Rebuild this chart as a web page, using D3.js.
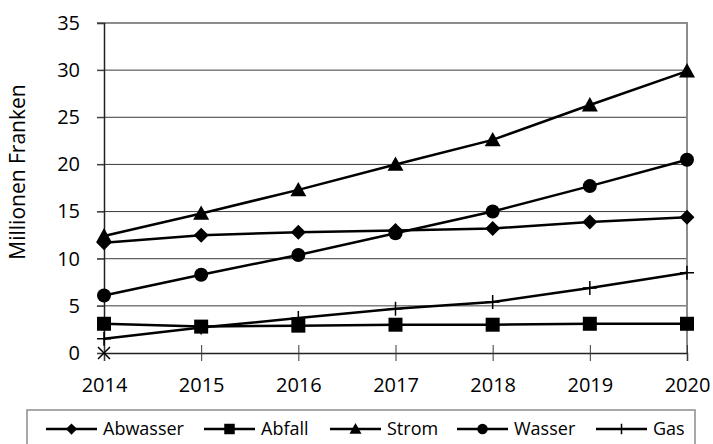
<!DOCTYPE html>
<html>
<head>
<meta charset="utf-8">
<script src="https://cdn.jsdelivr.net/npm/d3@7"></script>
<style>
  body { margin: 0; background: #fff; }
  text { font-family: "Open Sans", "Liberation Sans", sans-serif; fill: #000; }
</style>
</head>
<body>
<svg width="713" height="444"></svg>
<script>
// data
var years = [2014, 2015, 2016, 2017, 2018, 2019, 2020];
var abwasser = [11.7, 12.5, 12.8, 13.0, 13.2, 13.9, 14.4];
var abfall   = [3.1, 2.8, 2.9, 3.0, 3.0, 3.1, 3.1];
var strom    = [12.4, 14.8, 17.3, 20.0, 22.6, 26.3, 29.9];
var wasser   = [6.1, 8.3, 10.4, 12.7, 15.0, 17.7, 20.5];
var gas      = [1.5, 2.7, 3.7, 4.7, 5.4, 6.9, 8.5];
var extra    = [0];   // lone x marker at 2014, not in legend
var yTicks = [0, 5, 10, 15, 20, 25, 30, 35];

var series = [
  {name: "Abwasser", values: abwasser, marker: "diamond"},
  {name: "Abfall",   values: abfall,   marker: "square"},
  {name: "Strom",    values: strom,    marker: "triangle"},
  {name: "Wasser",   values: wasser,   marker: "circle"},
  {name: "Gas",      values: gas,      marker: "plus"}
];

var svg = d3.select("svg");
var pLeft = 104, pRight = 687, pTop = 23, pBottom = 353;

var x = d3.scaleLinear().domain([2014, 2020]).range([pLeft, pRight]);
var y = d3.scaleLinear().domain([0, 35]).range([pBottom, pTop]);

// marker path for a given size (half width)
function markerPath(type, s) {
  if (type == "diamond") return "M0," + (-s) + "L" + s + ",0L0," + s + "L" + (-s) + ",0Z";
  if (type == "square") return "M" + (-s) + "," + (-s) + "h" + (2*s) + "v" + (2*s) + "h" + (-2*s) + "Z";
  if (type == "triangle") return "M0," + (-s) + "L" + s + "," + (s*0.8) + "L" + (-s) + "," + (s*0.8) + "Z";
  if (type == "circle") return d3.arc()({innerRadius: 0, outerRadius: s, startAngle: 0, endAngle: 2*Math.PI});
  if (type == "plus") return "M" + (-s) + ",0H" + s + "M0," + (-s) + "V" + s;
  if (type == "x") return "M" + (-s) + "," + (-s) + "L" + s + "," + s + "M" + s + "," + (-s) + "L" + (-s) + "," + s;
}
var markerSize = {diamond: 7.5, square: 7, triangle: 8, circle: 7, plus: 7, x: 6};

// gridlines
svg.append("g").selectAll("line")
  .data(yTicks.slice(1, -1))
  .enter().append("line")
    .attr("x1", pLeft - 7).attr("x2", pRight)
    .attr("y1", function(d) { return y(d); })
    .attr("y2", function(d) { return y(d); })
    .attr("stroke", "#3a3a3a").attr("stroke-width", 1);

// plot border top / right
svg.append("path")
  .attr("d", "M" + (pLeft - 7) + "," + y(35) + "H" + pRight + "V" + y(0))
  .attr("fill", "none").attr("stroke", "#8c8c8c").attr("stroke-width", 2);

// y axis
var yAxis = d3.axisLeft(y).tickValues(yTicks).tickSize(7).tickPadding(17);
var gy = svg.append("g").attr("transform", "translate(" + pLeft + ",0)").call(yAxis);
gy.select(".domain").attr("stroke", "#222").attr("stroke-width", 1.5);
gy.selectAll(".tick line").attr("stroke", "#3a3a3a");
gy.selectAll("text").style("font-size", "20px").attr("fill", "#000");

// x axis with crossing ticks
var xAxis = d3.axisBottom(x).tickValues(years).tickFormat(d3.format("d")).tickSize(8).tickPadding(17);
var gx = svg.append("g").attr("transform", "translate(0," + pBottom + ")").call(xAxis);
gx.select(".domain").attr("stroke", "#222").attr("stroke-width", 1.5);
gx.selectAll(".tick line").attr("y1", -8).attr("stroke", "#3a3a3a");
gx.selectAll("text").style("font-size", "20px").attr("fill", "#000");

// y title
svg.append("text")
  .attr("transform", "translate(25,172) rotate(-90)")
  .attr("text-anchor", "middle")
  .style("font-size", "21px")
  .text("Millionen Franken");

// lines and markers
var line = d3.line()
  .x(function(d, i) { return x(years[i]); })
  .y(function(d) { return y(d); });

series.forEach(function(s) {
  svg.append("path")
    .attr("d", line(s.values))
    .attr("fill", "none").attr("stroke", "#000").attr("stroke-width", 2.5);
  svg.append("g").selectAll("path")
    .data(s.values)
    .enter().append("path")
      .attr("transform", function(d, i) { return "translate(" + x(years[i]) + "," + y(d) + ")"; })
      .attr("d", markerPath(s.marker, markerSize[s.marker]))
      .attr("fill", "#000").attr("stroke", "#000")
      .attr("stroke-width", s.marker == "plus" ? 1.5 : 0);
});

svg.append("g").selectAll("path")
  .data(extra)
  .enter().append("path")
    .attr("transform", function(d, i) { return "translate(" + x(years[i]) + "," + y(d) + ")"; })
    .attr("d", markerPath("x", markerSize.x))
    .attr("fill", "none").attr("stroke", "#000").attr("stroke-width", 1.5);

// legend
var legend = svg.append("g");
legend.append("rect")
  .attr("x", 27).attr("y", 410).attr("width", 668).attr("height", 40)
  .attr("fill", "#fff").attr("stroke", "#8c8c8c").attr("stroke-width", 1.5);

var legendX = [46, 204, 330, 457, 596];
var ly = 429;
series.forEach(function(s, i) {
  var g = legend.append("g").attr("transform", "translate(" + legendX[i] + "," + ly + ")");
  g.append("line").attr("x1", 0).attr("x2", 51).attr("y1", 0).attr("y2", 0)
    .attr("stroke", "#000").attr("stroke-width", 2.5);
  g.append("path").attr("transform", "translate(25.5,0)")
    .attr("d", markerPath(s.marker, markerSize[s.marker] * 0.75))
    .attr("fill", "#000").attr("stroke", "#000")
    .attr("stroke-width", s.marker == "plus" ? 1.5 : 0);
  g.append("text").attr("x", 57).attr("y", 0).attr("dy", "0.35em")
    .style("font-size", "18px")
    .text(s.name);
});
</script>
</body>
</html>
